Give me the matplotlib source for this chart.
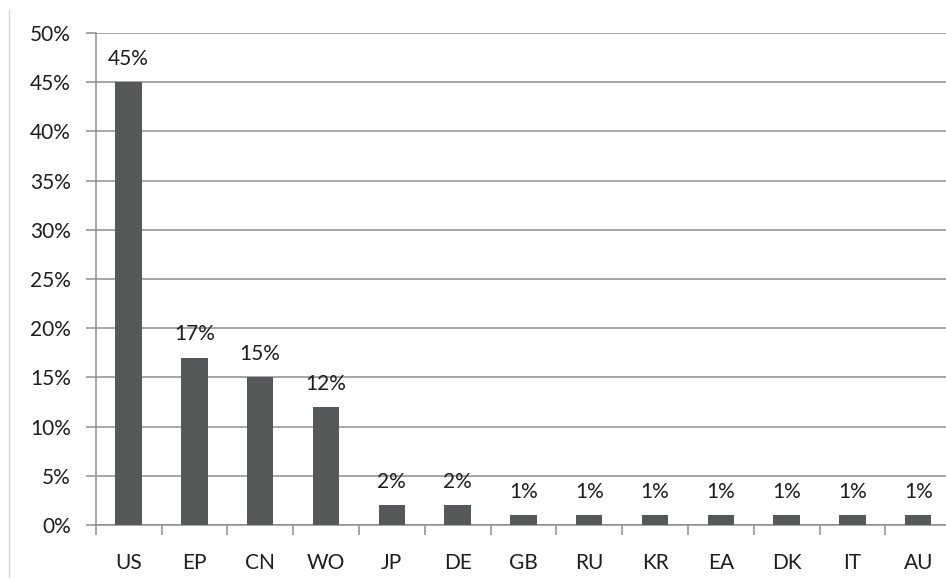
import matplotlib
matplotlib.use("Agg")
import matplotlib.pyplot as plt
from matplotlib.lines import Line2D
from matplotlib.ticker import FuncFormatter, FixedLocator

# Share of filings by office
offices = ["US", "EP", "CN", "WO", "JP", "DE", "GB", "RU", "KR", "EA", "DK", "IT", "AU"]
shares = [45, 17, 15, 12, 2, 2, 1, 1, 1, 1, 1, 1, 1]
y_ticks = [0, 5, 10, 15, 20, 25, 30, 35, 40, 45, 50]

plt.rcParams["font.family"] = ["Lato", "DejaVu Sans"]

BAR = "#555959"
GRID = "#8e8e8e"
TXT = "#1e1e1e"
FS = 15

fig = plt.figure(figsize=(9.46, 5.78), dpi=100)
ax = fig.add_axes([95.7 / 946, 53 / 578, 855.4 / 946, 492 / 578])

x = list(range(len(offices)))
ax.bar(x, shares, width=0.4, color=BAR, zorder=3)

for xi, v in zip(x, shares):
    ax.annotate(f"{v}%", (xi, v), xytext=(0, 12.5), textcoords="offset points",
                ha="center", va="baseline", fontsize=FS, color=TXT)

ax.set_xlim(-0.5, len(offices) - 0.5)
ax.set_ylim(0, 50)

ax.set_yticks(y_ticks)
ax.yaxis.set_major_formatter(FuncFormatter(lambda v, _: f"{v:.0f}%"))
ax.yaxis.grid(True, color=GRID, linewidth=1.1, zorder=0)
ax.set_axisbelow(True)

ax.set_xticks(x)
ax.set_xticklabels(offices)
ax.xaxis.set_minor_locator(FixedLocator([i - 0.5 for i in range(len(offices) + 1)]))
ax.tick_params(axis="x", which="major", length=0, pad=20, labelsize=FS, labelcolor=TXT)
ax.tick_params(axis="x", which="minor", length=7, width=1.1, color=GRID, direction="out")
ax.tick_params(axis="y", which="major", length=7, width=1.1, color=GRID, pad=11,
               labelsize=FS, labelcolor=TXT)

for side in ("top", "right"):
    ax.spines[side].set_visible(False)
for side in ("left", "bottom"):
    ax.spines[side].set_color(GRID)
    ax.spines[side].set_linewidth(1.1)

# light frame edge on the left
fig.add_artist(Line2D([8.5 / 946, 8.5 / 946], [0, 1 - 10 / 578],
                      transform=fig.transFigure, color="#d9d9d9", linewidth=1))

fig.savefig("out.png", dpi=100, facecolor="white")
